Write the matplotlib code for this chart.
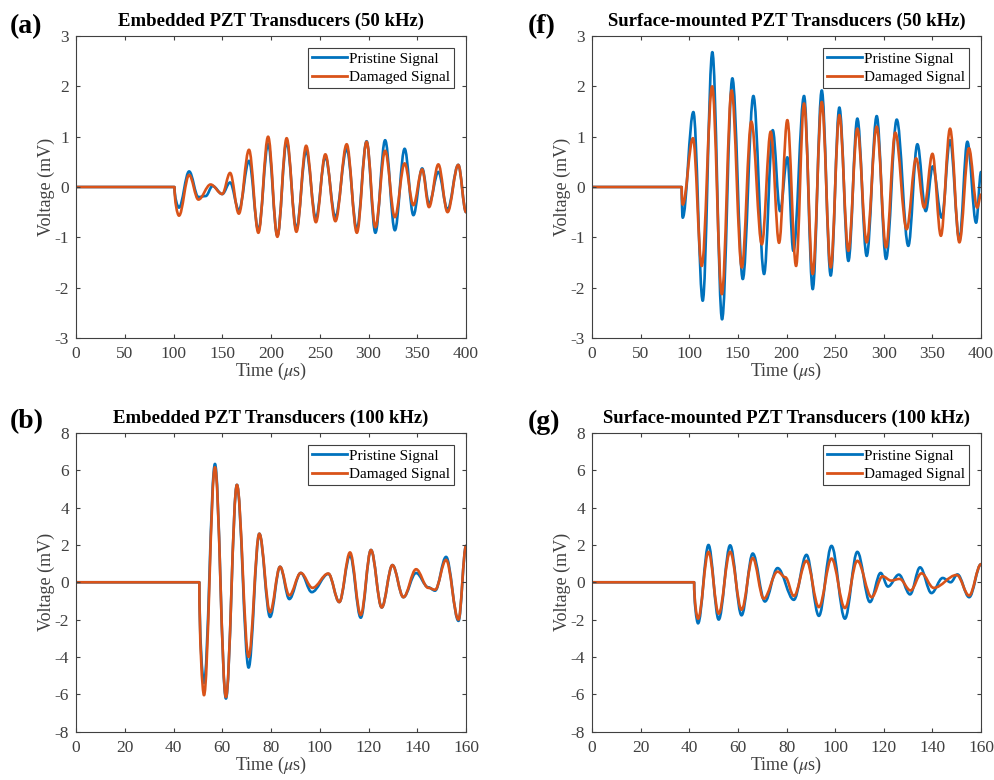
import numpy as np
import matplotlib
matplotlib.use("Agg")
import matplotlib.pyplot as plt
from matplotlib.path import Path
from matplotlib.patches import PathPatch
from matplotlib.lines import Line2D

plt.rcParams['font.family'] = ['Liberation Serif', 'DejaVu Serif']
plt.rcParams['mathtext.fontset'] = 'stix'
plt.rcParams['axes.unicode_minus'] = False

BLUE = '#0072BD'
ORANGE = '#D95319'
GREY = '#404040'

# signal onset and extrema (time in us, voltage in mV)
emb50_onset = 101.0
emb50_pristine_t = [105.6, 116, 125.5, 133, 140, 150, 158, 167, 177.4, 187, 197, 206.5,
                    216, 226, 236, 246, 255.7, 266, 277.6, 288, 298, 307, 317, 327, 337,
                    346, 355, 362, 371.6, 381, 392, 400]
emb50_pristine_v = [-0.41, 0.31, -0.20, -0.18, 0.02, -0.14, 0.09, -0.46, 0.52, -0.86, 0.86, -0.97,
                    0.90, -0.83, 0.72, -0.62, 0.60, -0.60, 0.76, -0.84, 0.91, -0.91, 0.93, -0.86, 0.76,
                    -0.56, 0.37, -0.33, 0.30, -0.45, 0.44, -0.50]
emb50_damaged_t = [105.6, 116, 125.5, 138, 150, 158, 167, 177.4, 187, 197, 206.5,
                   216, 226, 236, 246, 255.7, 266, 277.6, 288, 298, 307, 317, 327, 337,
                   346, 355, 362, 371.6, 381, 392, 400]
emb50_damaged_v = [-0.57, 0.24, -0.25, 0.05, -0.14, 0.28, -0.53, 0.74, -0.91, 1.00, -0.99,
                   0.97, -0.89, 0.82, -0.70, 0.65, -0.68, 0.85, -0.91, 0.90, -0.80, 0.72, -0.60, 0.47,
                   -0.36, 0.35, -0.40, 0.45, -0.50, 0.44, -0.50]

surf50_onset = 92.2
surf50_pristine_t = [93.2, 104.2, 113.8, 123.7, 133.7, 144.3, 155, 165.9, 176.9, 185.8, 193.3,
                     200.8, 207, 218, 226.9, 236.2, 245.4, 254.3, 263.6, 272.8, 282.4, 292.7,
                     302.3, 313.3, 325.2, 334.5, 343.1, 350.3, 359.6, 368.1, 377.7, 385.9,
                     394.9, 400]
surf50_pristine_v = [-0.61, 1.49, -2.26, 2.68, -2.63, 2.16, -1.83, 1.81, -1.73, 1.13, -0.48,
                     0.59, -1.27, 1.81, -2.03, 1.92, -1.76, 1.58, -1.47, 1.36, -1.37, 1.41,
                     -1.43, 1.34, -1.17, 0.85, -0.48, 0.41, -0.61, 0.93, -1.05, 0.90,
                     -0.71, 0.30]
surf50_damaged_t = [93.2, 103.8, 112.8, 123.5, 133.5, 143.5, 154, 163.8, 174.6, 183.7, 192.3,
                    200.8, 209.8, 218, 226.9, 236.2, 245.4, 254.3, 263.6, 272.8, 282.4, 292.7,
                    302.3, 311.8, 323.5, 333.2, 341.5, 350, 358.7, 368.1, 377.7, 387.5,
                    396, 400]
surf50_damaged_v = [-0.35, 0.97, -1.57, 2.00, -2.13, 1.92, -1.60, 1.30, -1.14, 1.10, -1.11,
                    1.33, -1.57, 1.66, -1.73, 1.69, -1.60, 1.43, -1.27, 1.16, -1.10, 1.20,
                    -1.20, 1.08, -0.84, 0.57, -0.41, 0.66, -0.97, 1.16, -1.10, 0.77,
                    -0.41, -0.15]

emb100_onset = 50.6
emb100_pristine_t = [52.5, 57, 61.5, 66, 70.8, 75.2, 79.6, 83.7, 87.5, 92.2, 96.7, 103.5, 108,
                     112.4, 116.8, 121, 125.4, 129.8, 134.3, 139.5, 144.5, 147.3, 151.8, 156.9, 160]
emb100_pristine_v = [-5.40, 6.34, -6.23, 5.22, -4.57, 2.60, -1.86, 0.83, -0.90, 0.50, -0.53, 0.45, -1.06,
                     1.45, -1.90, 1.73, -1.35, 0.92, -0.80, 0.50, -0.27, -0.45, 1.36, -2.07, 1.95]
emb100_damaged_t = [52.5, 57, 61.5, 66, 70.8, 75.2, 79.6, 83.7, 87.5, 92.2, 97, 103.5, 108,
                    112.4, 116.8, 121, 125.4, 129.8, 134.3, 139.5, 144.5, 147.3, 151.8, 156.9, 160]
emb100_damaged_v = [-6.05, 6.16, -6.15, 5.22, -4.00, 2.60, -1.60, 0.83, -0.70, 0.50, -0.30, 0.47, -1.06,
                    1.60, -1.75, 1.73, -1.35, 0.92, -0.80, 0.70, -0.30, -0.40, 1.20, -2.00, 1.95]

surf100_onset = 42.0
surf100_pristine_t = [43.6, 47.9, 52.1, 56.8, 61.5, 66.1, 71.1, 76.3, 83, 88.2, 93.3, 98.5, 104,
                      109.1, 114.3, 118.7, 121.7, 126.2, 130.8, 134.9, 139.6, 144.2, 147.5, 150.3,
                      155.1, 160]
surf100_pristine_v = [-2.20, 2.00, -2.00, 1.98, -1.77, 1.54, -1.03, 0.76, -0.94, 1.47, -1.80, 1.95, -1.95,
                      1.63, -1.06, 0.50, -0.23, 0.41, -0.65, 0.80, -0.58, 0.23, 0.00, 0.42,
                      -0.80, 0.97]
surf100_damaged_t = [43.6, 47.9, 52.1, 56.8, 61.5, 66.1, 70.6, 76.3, 79.5, 83, 88.2, 93.3, 98.5, 104,
                     109.1, 115, 119.5, 123, 126.5, 131, 135.5, 140.5, 150, 155.1, 160]
surf100_damaged_v = [-1.95, 1.63, -1.68, 1.63, -1.47, 1.30, -0.88, 0.57, 0.27, -0.74, 1.15, -1.33, 1.27, -1.38,
                     1.15, -0.80, 0.32, 0.09, 0.18, -0.44, 0.48, -0.30, 0.39, -0.71, 0.97]


def wave_path(onset, times, volts):
    # flat baseline, then smooth Bezier arcs between successive extrema
    verts = [(0, 0), (onset, 0)]
    codes = [Path.MOVETO, Path.LINETO]
    pt, pv = onset, 0.0
    for i, (t, v) in enumerate(zip(times, volts)):
        dt = t - pt
        if i == 0:
            c1 = (pt, pv + 0.5 * (v - pv))
        else:
            c1 = (pt + 0.36 * dt, pv)
        c2 = (t - 0.36 * dt, v)
        verts += [c1, c2, (t, v)]
        codes += [Path.CURVE4] * 3
        pt, pv = t, v
    return Path(verts, codes)


def draw_panel(ax, onset_p, tp, vp, onset_d, td, vd, xmax, xstep, ylim, ystep, title):
    for onset, t, v, c in [(onset_p, tp, vp, BLUE), (onset_d, td, vd, ORANGE)]:
        ax.add_patch(PathPatch(wave_path(onset, t, v), fill=False, edgecolor=c,
                               lw=1.9, capstyle='round', joinstyle='round'))
    ax.set_xlim(0, xmax)
    ax.set_ylim(-ylim, ylim)
    ax.set_xticks(np.arange(0, xmax + 1, xstep))
    ax.set_yticks(np.arange(-ylim, ylim + 1, ystep))
    ax.tick_params(direction='in', top=True, right=True, labelsize=12.5,
                   colors=GREY, length=3, width=0.8)
    ax.tick_params(axis='x', pad=6)
    ax.tick_params(axis='y', pad=5)
    for s in ax.spines.values():
        s.set_color(GREY)
        s.set_linewidth(0.8)
    ax.set_xlabel(r'Time ($\mu$s)', fontsize=13, color=GREY, labelpad=-1)
    ax.set_ylabel('Voltage (mV)', fontsize=13, color=GREY, labelpad=0)
    ax.set_title(title, fontsize=13.5, fontweight='bold', pad=7)
    handles = [Line2D([], [], color=BLUE, lw=2), Line2D([], [], color=ORANGE, lw=2)]
    leg = ax.legend(handles, ['Pristine Signal', 'Damaged Signal'], loc='upper right',
                    fontsize=11, fancybox=False, framealpha=1, edgecolor=GREY,
                    handlelength=2.3, handletextpad=0.15, borderpad=0.25, labelspacing=0.3,
                    borderaxespad=0.8)
    leg.get_frame().set_linewidth(0.8)


fig = plt.figure(figsize=(9.95, 7.8), dpi=100)
ax_a = fig.add_axes([0.0764, 0.5667, 0.392, 0.3871])
ax_f = fig.add_axes([0.595, 0.5667, 0.391, 0.3871])
ax_b = fig.add_axes([0.0764, 0.062, 0.392, 0.383])
ax_g = fig.add_axes([0.595, 0.062, 0.391, 0.383])

draw_panel(ax_a, emb50_onset, emb50_pristine_t, emb50_pristine_v,
           emb50_onset, emb50_damaged_t, emb50_damaged_v,
           400, 50, 3, 1, 'Embedded PZT Transducers (50 kHz)')
draw_panel(ax_f, surf50_onset, surf50_pristine_t, surf50_pristine_v,
           surf50_onset, surf50_damaged_t, surf50_damaged_v,
           400, 50, 3, 1, 'Surface-mounted PZT Transducers (50 kHz)')
draw_panel(ax_b, emb100_onset, emb100_pristine_t, emb100_pristine_v,
           emb100_onset, emb100_damaged_t, emb100_damaged_v,
           160, 20, 8, 2, 'Embedded PZT Transducers (100 kHz)')
draw_panel(ax_g, surf100_onset, surf100_pristine_t, surf100_pristine_v,
           surf100_onset, surf100_damaged_t, surf100_damaged_v,
           160, 20, 8, 2, 'Surface-mounted PZT Transducers (100 kHz)')

for lbl, x, y in [('(a)', 0.01, 0.966), ('(f)', 0.53, 0.966),
                  ('(b)', 0.01, 0.459), ('(g)', 0.53, 0.459)]:
    fig.text(x, y, lbl, fontsize=20, fontweight='bold', va='center', ha='left')

fig.savefig('out.png', dpi=100)
